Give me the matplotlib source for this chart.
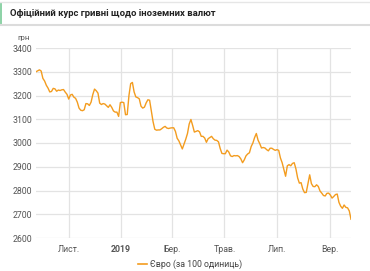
import matplotlib
matplotlib.use('Agg')
import matplotlib.pyplot as plt
import pandas as pd
from matplotlib.patches import Rectangle
from matplotlib.lines import Line2D

plt.rcParams['font.family'] = ['Roboto', 'DejaVu Sans']

# EUR rate (UAH per 100 EUR), read every 2 days from 2018-09-24
start = "2018-09-24"
eur = [
    3300, 3304, 3308, 3303, 3272, 3261, 3243, 3231, 3215, 3217,
    3230, 3228, 3218, 3223, 3221, 3224, 3225, 3214, 3205, 3185,
    3202, 3205, 3193, 3188, 3172, 3147, 3138, 3136, 3140, 3166,
    3165, 3158, 3172, 3204, 3227, 3220, 3210, 3168, 3162, 3166,
    3164, 3157, 3150, 3161, 3150, 3135, 3130, 3130, 3112, 3170,
    3172, 3170, 3119, 3120, 3200, 3250, 3255, 3215, 3194, 3191,
    3186, 3155, 3147, 3151, 3169, 3182, 3180, 3135, 3090, 3058,
    3054, 3055, 3055, 3060, 3066, 3070, 3063, 3061, 3063, 3064,
    3064, 3049, 3020, 3009, 2992, 2975, 2996, 3016, 3040, 3080,
    3099, 3074, 3046, 3049, 3052, 3047, 3028, 3028, 3021, 3003,
    3018, 3023, 3028, 3018, 3012, 3011, 3005, 2977, 2956, 2955,
    2955, 2970, 2962, 2946, 2943, 2947, 2946, 2947, 2943, 2933,
    2917, 2929, 2946, 2954, 2959, 2985, 3000, 3023, 3040, 3012,
    2997, 2979, 2981, 2979, 2972, 2967, 2978, 2978, 2973, 2969,
    2972, 2969, 2937, 2917, 2888, 2860, 2904, 2909, 2904, 2914,
    2917, 2891, 2853, 2831, 2833, 2806, 2791, 2792, 2830, 2866,
    2829, 2817, 2816, 2824, 2817, 2798, 2789, 2779, 2777, 2788,
    2789, 2781, 2768, 2775, 2783, 2785, 2750, 2734, 2725, 2739,
    2729, 2727, 2714, 2679,
]
dates = pd.date_range(start, periods=len(eur), freq="2D")

tick_dates = ["2018-11-01", "2019-01-01", "2019-03-01", "2019-05-01", "2019-07-01", "2019-09-01"]
tick_labels = ["Лист.", "2019", "Бер.", "Трав.", "Лип.", "Вер."]
y_ticks = [2600, 2700, 2800, 2900, 3000, 3100, 3200, 3300, 3400]

title = "Офіційний курс гривні щодо іноземних валют"
series_name = "Євро (за 100 одиниць)"
color = "#f39c1f"

W, H = 370, 271
fig = plt.figure(figsize=(W / 100, H / 100), dpi=100)
fig.patch.set_facecolor("white")

# title bar
fig.add_artist(Line2D([0, 1], [1 - 1.5 / H, 1 - 1.5 / H], color="#e6e6e6", lw=1))
fig.add_artist(Line2D([0, 1], [1 - 25.5 / H, 1 - 25.5 / H], color="#dcdcdc", lw=1.5))
fig.add_artist(Rectangle((0, 1 - 24 / H), 2 / W, 21 / H, color="#8fd3a8", lw=0))
fig.text(10 / W, 1 - 13.5 / H, title, fontsize=6.8, fontweight="bold",
         color="#222222", va="center", ha="left")

ax = fig.add_axes([36 / W, 1 - 238 / H, 315 / W, 190 / H])
ax.plot(dates, eur, color=color, lw=1.0)

ax.set_ylim(2600, 3400)
ax.set_yticks(y_ticks)
ax.set_xlim(pd.Timestamp(start), pd.Timestamp(start) + pd.Timedelta(days=366))
ax.set_xticks(pd.to_datetime(tick_dates))
ax.set_xticklabels(tick_labels)
for lbl in ax.get_xticklabels():
    if lbl.get_text() == "2019":
        lbl.set_fontweight("bold")
        lbl.set_color("#222222")

ax.tick_params(length=0, labelsize=6.3, colors="#555555")
ax.tick_params(axis="x", pad=5)
ax.tick_params(axis="y", pad=3)
ax.grid(True, color="#e3e3e3", lw=0.9)
ax.set_axisbelow(True)
for s in ax.spines.values():
    s.set_visible(False)

fig.text(17 / W, 1 - 38 / H, "грн", fontsize=5.8, color="#555555", va="center")

# legend
fig.add_artist(Line2D([138 / W, 147 / W], [1 - 264 / H, 1 - 264 / H], color=color, lw=1.2))
fig.text(150 / W, 1 - 264 / H, series_name, fontsize=6.3, color="#444444", va="center")

fig.savefig("out.png", dpi=100)
